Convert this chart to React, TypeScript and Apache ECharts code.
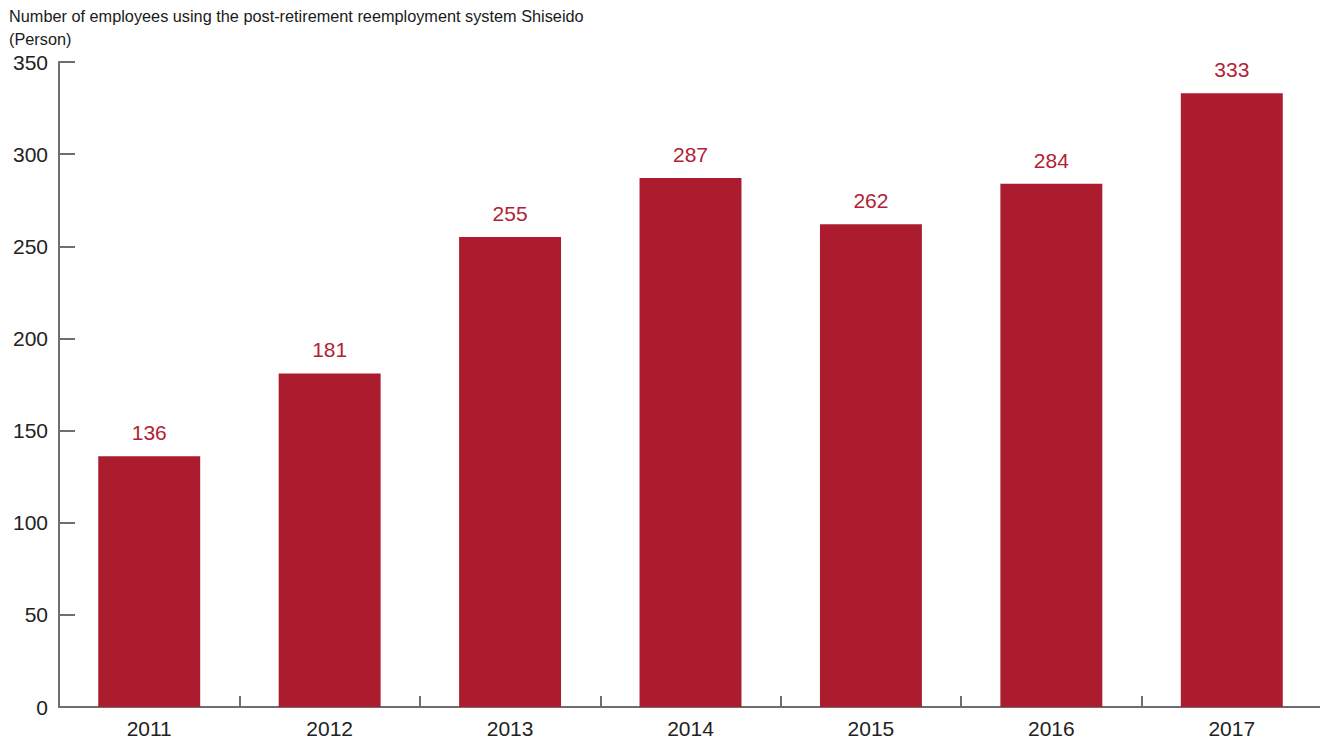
import React, { useEffect, useRef } from "react";
import * as echarts from "echarts";

const categories = ["2011", "2012", "2013", "2014", "2015", "2016", "2017"];
const values = [136, 181, 255, 287, 262, 284, 333];
const titleText = "Number of employees using the post-retirement reemployment system Shiseido";
const unitText = "(Person)";

const FONT = "Liberation Sans, Arial, Helvetica, sans-serif";

export default function App() {
  const ref = useRef<HTMLDivElement>(null);
  useEffect(() => {
    if (!ref.current) return;
    const chart = echarts.init(ref.current, undefined, { renderer: "svg" });
    chart.setOption({
      animation: false,
      textStyle: { fontFamily: FONT },
      graphic: [
        {
          type: "text",
          left: 9,
          top: 8,
          style: { text: titleText, fontSize: 16.3, fill: "#1a1a1a", fontFamily: FONT },
        },
        {
          type: "text",
          left: 9,
          top: 31,
          style: { text: unitText, fontSize: 16.3, fill: "#1a1a1a", fontFamily: FONT },
        },
      ],
      grid: { left: 59, right: 6, top: 62, bottom: 37, containLabel: false },
      xAxis: {
        type: "category",
        data: categories,
        axisLine: { lineStyle: { color: "#6e6e6e", width: 2 } },
        axisTick: { show: true, inside: true, length: 11, lineStyle: { color: "#6e6e6e", width: 2 } },
        axisLabel: { color: "#222", fontSize: 21, margin: 11 },
      },
      yAxis: {
        type: "value",
        min: 0,
        max: 350,
        interval: 50,
        axisLine: { show: true, lineStyle: { color: "#6e6e6e", width: 2 } },
        axisTick: { show: true, inside: true, length: 16, lineStyle: { color: "#6e6e6e", width: 2 } },
        splitLine: { show: false },
        axisLabel: { color: "#222", fontSize: 21, margin: 11 },
      },
      series: [
        {
          type: "bar",
          data: values,
          barWidth: "56.5%",
          itemStyle: { color: "#ab1c2e" },
          label: {
            show: true,
            position: "top",
            distance: 13,
            color: "#b22234",
            fontSize: 21,
          },
        },
      ],
    });
    return () => chart.dispose();
  }, []);
  return <div ref={ref} style={{ width: 1328, height: 744, margin: -8 }} />;
}
